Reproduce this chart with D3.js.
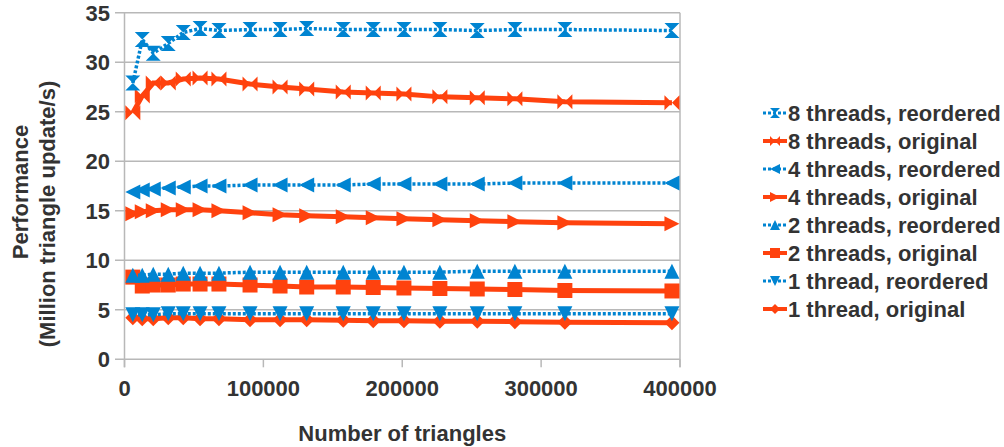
<!DOCTYPE html>
<html>
<head>
<meta charset="utf-8">
<script src="https://cdn.jsdelivr.net/npm/d3@7"></script>
<style>
  body { margin: 0; background: #fff; }
  text { font-family: "Liberation Sans", Arial, sans-serif; font-weight: bold; fill: #333; }
</style>
</head>
<body>
<script>
// number of triangles per test mesh
const triangles = [6000, 12800, 20700, 31500, 42300, 54400, 68000, 90400, 112000,
    131200, 157500, 179100, 201200, 227100, 254000, 281100, 317100, 394200];

const t1Original  = [4.2, 4.1, 4.1, 4.2, 4.2, 4.1, 4.1, 4.0, 4.0, 4.0, 3.95, 3.9, 3.9, 3.85, 3.85, 3.8, 3.75, 3.7];
const t1Reordered = [4.5, 4.5, 4.5, 4.6, 4.6, 4.6, 4.6, 4.6, 4.6, 4.6, 4.6, 4.6, 4.6, 4.6, 4.6, 4.6, 4.6, 4.6];
const t2Original  = [8.3, 7.4, 7.5, 7.5, 7.6, 7.6, 7.6, 7.5, 7.4, 7.3, 7.3, 7.25, 7.2, 7.15, 7.1, 7.05, 6.95, 6.9];
const t2Reordered = [8.5, 8.5, 8.6, 8.6, 8.7, 8.7, 8.7, 8.8, 8.8, 8.8, 8.8, 8.8, 8.8, 8.8, 8.9, 8.9, 8.9, 8.9];
const t4Original  = [14.7, 14.9, 15.0, 15.1, 15.1, 15.1, 15.0, 14.8, 14.6, 14.5, 14.4, 14.3, 14.2, 14.1, 14.0, 13.9, 13.8, 13.7];
const t4Reordered = [16.9, 17.1, 17.2, 17.3, 17.4, 17.5, 17.5, 17.6, 17.6, 17.6, 17.6, 17.7, 17.7, 17.7, 17.7, 17.8, 17.8, 17.8];
const t8Original  = [24.9, 26.6, 27.9, 27.9, 28.3, 28.4, 28.3, 27.8, 27.5, 27.3, 27.0, 26.9, 26.8, 26.5, 26.4, 26.3, 26.0, 25.9];
const t8Reordered = [27.9, 32.3, 30.9, 31.9, 33.0, 33.4, 33.2, 33.3, 33.3, 33.4, 33.3, 33.3, 33.3, 33.3, 33.2, 33.3, 33.3, 33.2];

const yTicks = [0, 5, 10, 15, 20, 25, 30, 35];
const xTicks = [0, 100000, 200000, 300000, 400000];

const blue = "#0084d1", orange = "#ff420e";

// drawing order: originals first, reordered on top
const series = [
    { name: "1 thread, original",    values: t1Original,  color: orange, marker: "diamond" },
    { name: "1 thread, reordered",   values: t1Reordered, color: blue,   marker: "down" },
    { name: "2 threads, original",   values: t2Original,  color: orange, marker: "square" },
    { name: "2 threads, reordered",  values: t2Reordered, color: blue,   marker: "up" },
    { name: "4 threads, original",   values: t4Original,  color: orange, marker: "right" },
    { name: "4 threads, reordered",  values: t4Reordered, color: blue,   marker: "left" },
    { name: "8 threads, original",   values: t8Original,  color: orange, marker: "bowtie" },
    { name: "8 threads, reordered",  values: t8Reordered, color: blue,   marker: "hourglass" }
];

// marker path centered on 0,0 with size s
function markerPath(type, s) {
    const h = s / 2;
    switch (type) {
        case "diamond":   return `M0,${-h}L${h},0L0,${h}L${-h},0Z`;
        case "square":    return `M${-h},${-h}H${h}V${h}H${-h}Z`;
        case "up":        return `M0,${-h}L${h},${h}L${-h},${h}Z`;
        case "down":      return `M${-h},${-h}L${h},${-h}L0,${h}Z`;
        case "left":      return `M${-h},0L${h},${-h}L${h},${h}Z`;
        case "right":     return `M${h},0L${-h},${-h}L${-h},${h}Z`;
        case "hourglass": return `M${-h},${-h}H${h}L${-h},${h}H${h}Z`;
        case "bowtie":    return `M${-h},${-h}V${h}L${h},${-h}V${h}Z`;
    }
}

const width = 1004, height = 447;
const svg = d3.select("body").append("svg")
    .attr("width", width)
    .attr("height", height);

const x = d3.scaleLinear().domain([0, 400000]).range([124.5, 680]);
const y = d3.scaleLinear().domain([0, 35]).range([359.3, 12.7]);

const grid = "#b8b8b8";

// horizontal gridlines (extend left as ticks)
svg.append("g").selectAll("line")
    .data(yTicks)
    .join("line")
    .attr("x1", 115).attr("x2", x.range()[1])
    .attr("y1", d => y(d)).attr("y2", d => y(d))
    .attr("stroke", grid).attr("stroke-width", 1.5);

// left axis line and right border
svg.append("line")
    .attr("x1", x(0)).attr("x2", x(0))
    .attr("y1", y(35)).attr("y2", y(0) + 8)
    .attr("stroke", grid).attr("stroke-width", 1.5);
svg.append("line")
    .attr("x1", x.range()[1]).attr("x2", x.range()[1])
    .attr("y1", y(35)).attr("y2", y(0) + 8)
    .attr("stroke", grid).attr("stroke-width", 1.5);

// x ticks
svg.append("g").selectAll("line")
    .data(xTicks)
    .join("line")
    .attr("x1", d => x(d)).attr("x2", d => x(d))
    .attr("y1", y(0)).attr("y2", y(0) + 8)
    .attr("stroke", grid).attr("stroke-width", 1.5);

svg.append("g").selectAll("text")
    .data(yTicks)
    .join("text")
    .attr("x", 110)
    .attr("y", d => y(d))
    .attr("dy", "0.36em")
    .attr("text-anchor", "end")
    .style("font-size", "22px")
    .text(d => d);

svg.append("g").selectAll("text")
    .data(xTicks)
    .join("text")
    .attr("x", d => x(d))
    .attr("y", 396)
    .attr("text-anchor", "middle")
    .style("font-size", "22px")
    .text(d => d);

// axis titles
svg.append("text")
    .attr("x", (x.range()[0] + x.range()[1]) / 2)
    .attr("y", 441)
    .attr("text-anchor", "middle")
    .style("font-size", "22px")
    .text("Number of triangles");

svg.append("text")
    .attr("transform", "translate(20,192) rotate(-90)")
    .attr("dy", "0.36em")
    .attr("text-anchor", "middle")
    .style("font-size", "22px")
    .text("Performance");
svg.append("text")
    .attr("transform", "translate(47,214) rotate(-90)")
    .attr("dy", "0.36em")
    .attr("text-anchor", "middle")
    .style("font-size", "22px")
    .text("(Million triangle update/s)");

const line = d3.line()
    .x((d, i) => x(triangles[i]))
    .y(d => y(d));

function lineStyle(sel, s) {
    sel.attr("fill", "none")
        .attr("stroke", s.color)
        .attr("stroke-width", s.color === blue ? 3.5 : 5)
        .attr("stroke-dasharray", s.color === blue ? "3,2" : null);
}

const seriesG = svg.append("g")
    .selectAll("g")
    .data(series)
    .join("g");

seriesG.append("path")
    .attr("d", d => line(d.values))
    .each(function (d) { lineStyle(d3.select(this), d); });

seriesG.each(function (s) {
    d3.select(this).selectAll(".marker")
        .data(s.values)
        .join("path")
        .attr("class", "marker")
        .attr("transform", (d, i) => `translate(${x(triangles[i])},${y(d)})`)
        .attr("d", markerPath(s.marker, 15))
        .attr("fill", s.color);
});

// legend, top row is the last series
const legendOrder = series.slice().reverse();
const legend = svg.append("g")
    .selectAll("g")
    .data(legendOrder)
    .join("g")
    .attr("transform", (d, i) => `translate(0,${113 + i * 28})`);

legend.append("line")
    .attr("x1", 763).attr("x2", 787)
    .attr("y1", 0).attr("y2", 0)
    .each(function (d) {
        lineStyle(d3.select(this), d);
        d3.select(this).attr("stroke-width", d.color === blue ? 3 : 4);
    });

legend.append("path")
    .attr("transform", "translate(775,0)")
    .attr("d", d => markerPath(d.marker, 10))
    .attr("fill", d => d.color);

legend.append("text")
    .attr("x", 788)
    .attr("dy", "0.36em")
    .style("font-size", "22px")
    .text(d => d.name);
</script>
</body>
</html>
